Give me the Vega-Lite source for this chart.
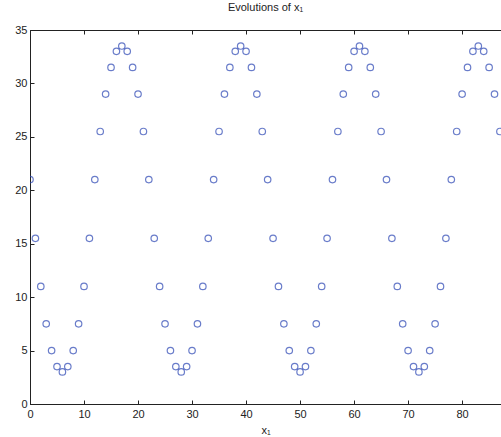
{
  "$schema": "https://vega.github.io/schema/vega-lite/v6.json",
  "autosize": {"type": "none"},
  "padding": {"left": 30, "top": 30, "right": 0, "bottom": 33},
  "width": 471,
  "height": 374,
  "background": "white",
  "title": {"text": "Evolutions of x₁", "font": "Liberation Sans", "fontSize": 11, "fontWeight": "normal", "color": "#222222", "offset": 11},
  "config": {
    "view": {"stroke": "#222222", "strokeWidth": 1},
    "axis": {"labelFont": "Liberation Sans", "titleFont": "Liberation Sans", "labelFontSize": 11, "titleFontSize": 11, "titleFontWeight": "normal", "labelColor": "#222222", "titleColor": "#222222", "domainColor": "#222222", "tickColor": "#222222", "grid": false, "tickSize": -4, "domainWidth": 1}
  },
  "data": {"values": [
    {"t": 0, "v": 21}, {"t": 1, "v": 15.5}, {"t": 2, "v": 11}, {"t": 3, "v": 7.5}, {"t": 4, "v": 5}, {"t": 5, "v": 3.5}, {"t": 6, "v": 3}, {"t": 7, "v": 3.5}, {"t": 8, "v": 5}, {"t": 9, "v": 7.5},
    {"t": 10, "v": 11}, {"t": 11, "v": 15.5}, {"t": 12, "v": 21}, {"t": 13, "v": 25.5}, {"t": 14, "v": 29}, {"t": 15, "v": 31.5}, {"t": 16, "v": 33}, {"t": 17, "v": 33.5}, {"t": 18, "v": 33}, {"t": 19, "v": 31.5},
    {"t": 20, "v": 29}, {"t": 21, "v": 25.5}, {"t": 22, "v": 21}, {"t": 23, "v": 15.5}, {"t": 24, "v": 11}, {"t": 25, "v": 7.5}, {"t": 26, "v": 5}, {"t": 27, "v": 3.5}, {"t": 28, "v": 3}, {"t": 29, "v": 3.5},
    {"t": 30, "v": 5}, {"t": 31, "v": 7.5}, {"t": 32, "v": 11}, {"t": 33, "v": 15.5}, {"t": 34, "v": 21}, {"t": 35, "v": 25.5}, {"t": 36, "v": 29}, {"t": 37, "v": 31.5}, {"t": 38, "v": 33}, {"t": 39, "v": 33.5},
    {"t": 40, "v": 33}, {"t": 41, "v": 31.5}, {"t": 42, "v": 29}, {"t": 43, "v": 25.5}, {"t": 44, "v": 21}, {"t": 45, "v": 15.5}, {"t": 46, "v": 11}, {"t": 47, "v": 7.5}, {"t": 48, "v": 5}, {"t": 49, "v": 3.5},
    {"t": 50, "v": 3}, {"t": 51, "v": 3.5}, {"t": 52, "v": 5}, {"t": 53, "v": 7.5}, {"t": 54, "v": 11}, {"t": 55, "v": 15.5}, {"t": 56, "v": 21}, {"t": 57, "v": 25.5}, {"t": 58, "v": 29}, {"t": 59, "v": 31.5},
    {"t": 60, "v": 33}, {"t": 61, "v": 33.5}, {"t": 62, "v": 33}, {"t": 63, "v": 31.5}, {"t": 64, "v": 29}, {"t": 65, "v": 25.5}, {"t": 66, "v": 21}, {"t": 67, "v": 15.5}, {"t": 68, "v": 11}, {"t": 69, "v": 7.5},
    {"t": 70, "v": 5}, {"t": 71, "v": 3.5}, {"t": 72, "v": 3}, {"t": 73, "v": 3.5}, {"t": 74, "v": 5}, {"t": 75, "v": 7.5}, {"t": 76, "v": 11}, {"t": 77, "v": 15.5}, {"t": 78, "v": 21}, {"t": 79, "v": 25.5},
    {"t": 80, "v": 29}, {"t": 81, "v": 31.5}, {"t": 82, "v": 33}, {"t": 83, "v": 33.5}, {"t": 84, "v": 33}, {"t": 85, "v": 31.5}, {"t": 86, "v": 29}, {"t": 87, "v": 25.5}
  ]},
  "layer": [
    {
      "mark": {"type": "point", "shape": "circle", "filled": false, "color": "#2b46b4", "strokeWidth": 1.2, "size": 42, "clip": true},
      "encoding": {
        "x": {"field": "t", "type": "quantitative", "scale": {"domain": [0, 87.2], "nice": false, "zero": false}, "axis": {"orient": "bottom", "values": [0, 10, 20, 30, 40, 50, 60, 70, 80], "title": "x₁", "labelPadding": 8, "titleY": 20, "labelFlush": false}},
        "y": {"field": "v", "type": "quantitative", "scale": {"domain": [0, 35], "nice": false}, "axis": {"orient": "left", "values": [0, 5, 10, 15, 20, 25, 30, 35], "title": null, "labelPadding": 7, "labelFlush": false}}
      }
    },
    {
      "mark": {"type": "point", "opacity": 0},
      "encoding": {
        "x": {"field": "t", "type": "quantitative", "axis": {"orient": "top", "values": [0, 10, 20, 30, 40, 50, 60, 70, 80], "labels": false, "title": null, "domain": false, "ticks": true, "tickSize": -4, "tickColor": "#222222", "zindex": 1}}
      }
    }
  ],
  "resolve": {"axis": {"x": "independent"}}
}
